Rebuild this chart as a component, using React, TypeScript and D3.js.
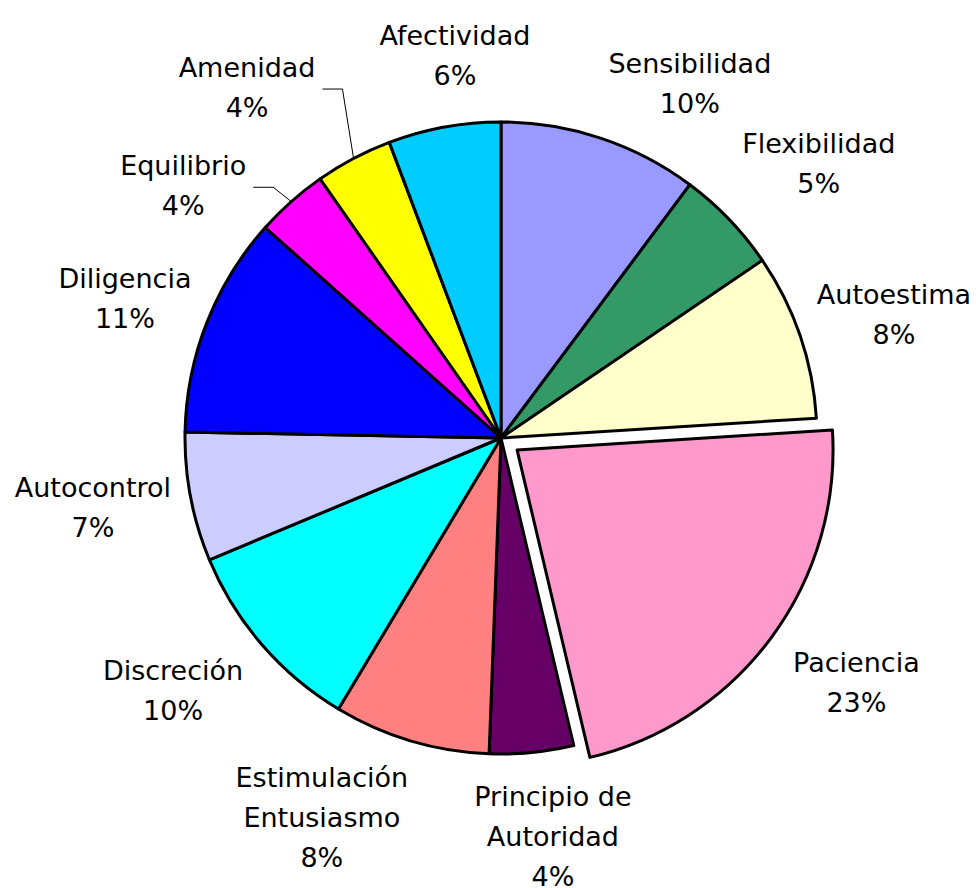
import React, { useEffect, useRef } from 'react';
import * as d3 from 'd3';

// slices, clockwise from 12 o'clock
const LABELS = [
    'Sensibilidad',
    'Flexibilidad',
    'Autoestima',
    'Paciencia',
    'Principio de\nAutoridad',
    'Estimulación\nEntusiasmo',
    'Discreción',
    'Autocontrol',
    'Diligencia',
    'Equilibrio',
    'Amenidad',
    'Afectividad',
];
const VALUES = [10.2, 5.3, 8.5, 22.3, 4.3, 8.0, 10.1, 6.6, 11.3, 3.7, 3.95, 5.75];
const PCT_LABELS = ['10%', '5%', '8%', '23%', '4%', '8%', '10%', '7%', '11%', '4%', '4%', '6%'];
const COLORS = [
    '#9999FF',
    '#339966',
    '#FFFFCC',
    '#FF99CC',
    '#660066',
    '#FF8080',
    '#00FFFF',
    '#CCCCFF',
    '#0000FF',
    '#FF00FF',
    '#FFFF00',
    '#00CCFF',
];

// layout
const WIDTH = 976;
const HEIGHT = 888;
const CX = 501;
const CY = 438;
const R = 316;
const LABEL_R = 390;
const EXPLODED = 3;
const EXPLODE_DIST = 20;
const LEADERS = [9, 10];
// small shifts of each label off its radial spot (excel "best fit")
const LABEL_NUDGE: [number, number][] = [
    [66, 15],
    [36, -5],
    [24, 2],
    [26, 0],
    [14, 10],
    [-68, 5],
    [-33, -3],
    [-25, -4],
    [-13, 2],
    [-59, 39],
    [-72, -6],
    [24, 1],
];

export default function App() {
    const ref = useRef<SVGSVGElement>(null);

    useEffect(() => {
        drawChart();
        // eslint-disable-next-line
    }, []);

    function drawChart() {
        const svg = d3.select(ref.current);
        svg.selectAll('*').remove();

        const g = svg.append('g').attr('transform', `translate(${CX},${CY})`);

        const pie = d3
            .pie<number>()
            .sort(null)
            .value((d) => d);
        const arcs = pie(VALUES);
        const arc = d3.arc<d3.PieArcDatum<number>>().innerRadius(0).outerRadius(R);

        const midAngle = (d: d3.PieArcDatum<number>) => (d.startAngle + d.endAngle) / 2;
        const shift = (d: d3.PieArcDatum<number>, i: number) => {
            if (i !== EXPLODED) return [0, 0];
            const a = midAngle(d);
            return [EXPLODE_DIST * Math.sin(a), -EXPLODE_DIST * Math.cos(a)];
        };

        // slices
        g.selectAll('path.slice')
            .data(arcs)
            .enter()
            .append('path')
            .attr('class', 'slice')
            .attr('d', arc)
            .attr('fill', (d, i) => COLORS[i])
            .attr('stroke', '#000')
            .attr('stroke-width', 3)
            .attr('stroke-linejoin', 'round')
            .attr('transform', (d, i) => {
                const [dx, dy] = shift(d, i);
                return `translate(${dx},${dy})`;
            });

        // labels
        arcs.forEach((d, i) => {
            const a = midAngle(d);
            const [ex, ey] = shift(d, i);
            const x = LABEL_R * Math.sin(a) + ex + LABEL_NUDGE[i][0];
            const y = -LABEL_R * Math.cos(a) + ey + LABEL_NUDGE[i][1];
            const lines = LABELS[i].split('\n').concat(PCT_LABELS[i]);
            const firstBase = y - ((lines.length - 1) * 40) / 2 + 10;

            const text = g
                .append('text')
                .attr('text-anchor', 'middle')
                .style('font-family', '"DejaVu Sans", Verdana, sans-serif')
                .style('font-size', '27px')
                .attr('fill', '#000');
            lines.forEach((line, k) => {
                text.append('tspan')
                    .attr('x', x)
                    .attr('y', firstBase + k * 40)
                    .text(line);
            });

            if (LEADERS.includes(i)) {
                const w = (text.node() as SVGTextElement).getBBox().width;
                const x1 = x + w / 2 + 7;
                const y1 = y + 2;
                const pts: [number, number][] = [
                    [x1, y1],
                    [x1 + 20, y1],
                    [R * Math.sin(a), -R * Math.cos(a)],
                ];
                g.append('path')
                    .attr('d', d3.line()(pts))
                    .attr('fill', 'none')
                    .attr('stroke', '#000')
                    .attr('stroke-width', 1);
            }
        });
    }

    return (
        <svg
            ref={ref}
            width={WIDTH}
            height={HEIGHT}
            style={{ position: 'absolute', left: 0, top: 0, background: '#fff' }}
        />
    );
}
